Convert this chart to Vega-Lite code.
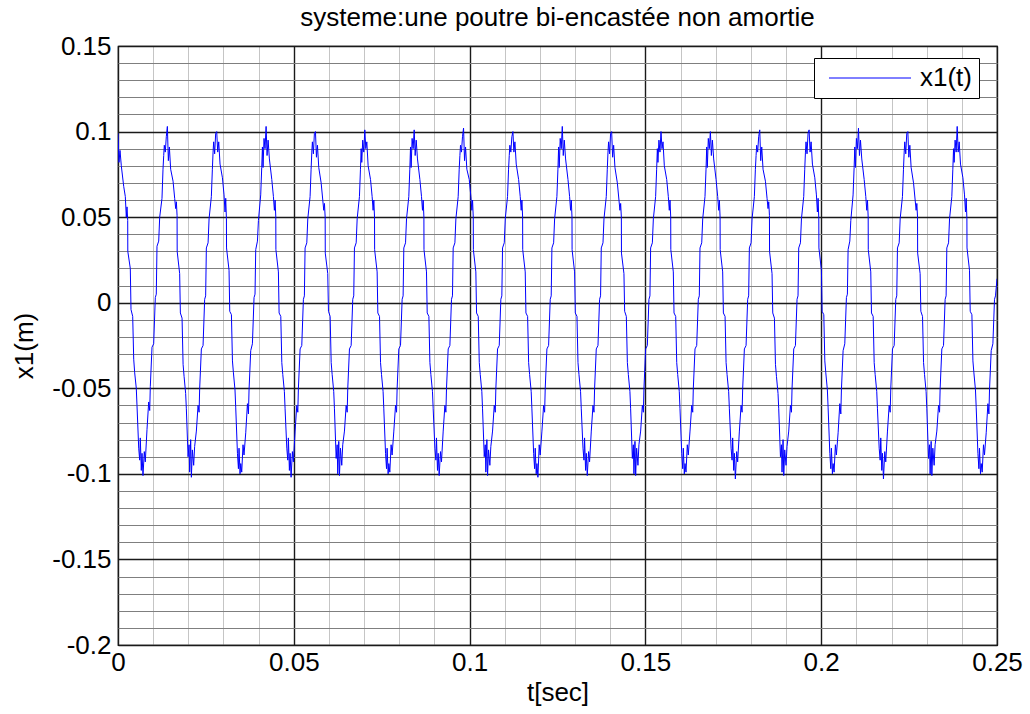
{
  "$schema": "https://vega.github.io/schema/vega-lite/v6.json",
  "autosize": {"type": "none"},
  "padding": {"left": 118, "top": 46, "right": 33, "bottom": 69},
  "width": 879,
  "height": 599,
  "background": "white",
  "title": {"text": "systeme:une poutre bi-encastée non amortie", "font": "Liberation Sans", "fontSize": 26, "fontWeight": "normal", "color": "black", "anchor": "middle", "offset": 4, "dy": 2},
  "config": {
    "view": {"stroke": "black", "strokeWidth": 1.2},
    "axis": {"labelFont": "Liberation Sans", "titleFont": "Liberation Sans", "labelFontSize": 26, "titleFontSize": 26, "titleFontWeight": "normal", "labelColor": "black", "titleColor": "black", "ticks": false, "domain": false}
  },
  "data": {"values": [
{"t":0.00000,"x":0.099},{"t":0.00028,"x":0.082},{"t":0.00057,"x":0.089},{"t":0.00094,"x":0.080},{"t":0.00162,"x":0.068},{"t":0.00208,"x":0.062},{"t":0.00236,"x":0.050},{"t":0.00256,"x":0.056},{"t":0.00276,"x":0.048},{"t":0.00279,"x":0.030},{"t":0.00350,"x":0.020},{"t":0.00370,"x":-0.004},{"t":0.00418,"x":-0.008},{"t":0.00447,"x":-0.033},{"t":0.00475,"x":-0.041},{"t":0.00520,"x":-0.050},{"t":0.00540,"x":-0.060},{"t":0.00589,"x":-0.085},{"t":0.00617,"x":-0.092},{"t":0.00634,"x":-0.079},{"t":0.00663,"x":-0.098},{"t":0.00683,"x":-0.088},{"t":0.00711,"x":-0.101},{"t":0.00748,"x":-0.087},{"t":0.00776,"x":-0.093},{"t":0.00825,"x":-0.074},{"t":0.00873,"x":-0.058},{"t":0.00902,"x":-0.063},{"t":0.00919,"x":-0.049},{"t":0.00967,"x":-0.026},{"t":0.01015,"x":-0.024},{"t":0.01061,"x":0.003},{"t":0.01089,"x":0.005},{"t":0.01109,"x":0.033},{"t":0.01158,"x":0.036},{"t":0.01186,"x":0.050},{"t":0.01251,"x":0.061},{"t":0.01280,"x":0.078},{"t":0.01300,"x":0.086},{"t":0.01317,"x":0.092},{"t":0.01345,"x":0.088},{"t":0.01374,"x":0.097},
{"t":0.01404,"x":0.103},{"t":0.01432,"x":0.083},{"t":0.01461,"x":0.091},{"t":0.01498,"x":0.078},{"t":0.01566,"x":0.071},{"t":0.01612,"x":0.061},{"t":0.01640,"x":0.055},{"t":0.01660,"x":0.059},{"t":0.01680,"x":0.051},{"t":0.01683,"x":0.030},{"t":0.01754,"x":0.017},{"t":0.01774,"x":-0.006},{"t":0.01822,"x":-0.009},{"t":0.01851,"x":-0.036},{"t":0.01879,"x":-0.043},{"t":0.01924,"x":-0.053},{"t":0.01944,"x":-0.062},{"t":0.01993,"x":-0.090},{"t":0.02021,"x":-0.083},{"t":0.02038,"x":-0.099},{"t":0.02067,"x":-0.080},{"t":0.02087,"x":-0.102},{"t":0.02115,"x":-0.086},{"t":0.02152,"x":-0.095},{"t":0.02180,"x":-0.084},{"t":0.02229,"x":-0.075},{"t":0.02277,"x":-0.060},{"t":0.02306,"x":-0.064},{"t":0.02323,"x":-0.050},{"t":0.02371,"x":-0.027},{"t":0.02419,"x":-0.025},{"t":0.02465,"x":0.002},{"t":0.02493,"x":0.004},{"t":0.02513,"x":0.032},{"t":0.02562,"x":0.035},{"t":0.02590,"x":0.049},{"t":0.02655,"x":0.062},{"t":0.02684,"x":0.078},{"t":0.02704,"x":0.088},{"t":0.02721,"x":0.094},{"t":0.02749,"x":0.087},{"t":0.02778,"x":0.099},
{"t":0.02808,"x":0.100},{"t":0.02836,"x":0.088},{"t":0.02865,"x":0.094},{"t":0.02902,"x":0.081},{"t":0.02970,"x":0.073},{"t":0.03016,"x":0.063},{"t":0.03044,"x":0.053},{"t":0.03064,"x":0.061},{"t":0.03084,"x":0.049},{"t":0.03087,"x":0.032},{"t":0.03158,"x":0.019},{"t":0.03178,"x":-0.005},{"t":0.03226,"x":-0.007},{"t":0.03255,"x":-0.034},{"t":0.03283,"x":-0.041},{"t":0.03328,"x":-0.051},{"t":0.03348,"x":-0.061},{"t":0.03397,"x":-0.088},{"t":0.03425,"x":-0.097},{"t":0.03442,"x":-0.085},{"t":0.03471,"x":-0.100},{"t":0.03491,"x":-0.094},{"t":0.03519,"x":-0.099},{"t":0.03556,"x":-0.083},{"t":0.03584,"x":-0.089},{"t":0.03633,"x":-0.076},{"t":0.03681,"x":-0.059},{"t":0.03710,"x":-0.065},{"t":0.03727,"x":-0.051},{"t":0.03775,"x":-0.028},{"t":0.03823,"x":-0.024},{"t":0.03869,"x":0.003},{"t":0.03897,"x":0.005},{"t":0.03917,"x":0.031},{"t":0.03966,"x":0.036},{"t":0.03994,"x":0.048},{"t":0.04059,"x":0.063},{"t":0.04088,"x":0.079},{"t":0.04108,"x":0.091},{"t":0.04125,"x":0.079},{"t":0.04153,"x":0.096},{"t":0.04182,"x":0.090},
{"t":0.04212,"x":0.103},{"t":0.04240,"x":0.086},{"t":0.04269,"x":0.095},{"t":0.04306,"x":0.084},{"t":0.04374,"x":0.072},{"t":0.04420,"x":0.062},{"t":0.04448,"x":0.054},{"t":0.04468,"x":0.060},{"t":0.04488,"x":0.050},{"t":0.04491,"x":0.031},{"t":0.04562,"x":0.018},{"t":0.04582,"x":-0.006},{"t":0.04630,"x":-0.008},{"t":0.04659,"x":-0.035},{"t":0.04687,"x":-0.042},{"t":0.04732,"x":-0.052},{"t":0.04752,"x":-0.062},{"t":0.04801,"x":-0.085},{"t":0.04829,"x":-0.092},{"t":0.04846,"x":-0.079},{"t":0.04875,"x":-0.098},{"t":0.04895,"x":-0.088},{"t":0.04923,"x":-0.102},{"t":0.04960,"x":-0.087},{"t":0.04988,"x":-0.093},{"t":0.05037,"x":-0.075},{"t":0.05085,"x":-0.060},{"t":0.05114,"x":-0.064},{"t":0.05131,"x":-0.050},{"t":0.05179,"x":-0.027},{"t":0.05227,"x":-0.025},{"t":0.05273,"x":0.002},{"t":0.05301,"x":0.004},{"t":0.05321,"x":0.032},{"t":0.05370,"x":0.035},{"t":0.05398,"x":0.049},{"t":0.05463,"x":0.062},{"t":0.05492,"x":0.078},{"t":0.05512,"x":0.088},{"t":0.05529,"x":0.094},{"t":0.05557,"x":0.087},{"t":0.05586,"x":0.099},
{"t":0.05616,"x":0.100},{"t":0.05644,"x":0.085},{"t":0.05673,"x":0.092},{"t":0.05710,"x":0.079},{"t":0.05778,"x":0.070},{"t":0.05824,"x":0.060},{"t":0.05852,"x":0.054},{"t":0.05872,"x":0.058},{"t":0.05892,"x":0.050},{"t":0.05895,"x":0.029},{"t":0.05966,"x":0.017},{"t":0.05986,"x":-0.005},{"t":0.06034,"x":-0.008},{"t":0.06063,"x":-0.035},{"t":0.06091,"x":-0.042},{"t":0.06136,"x":-0.052},{"t":0.06156,"x":-0.062},{"t":0.06205,"x":-0.091},{"t":0.06233,"x":-0.083},{"t":0.06250,"x":-0.100},{"t":0.06279,"x":-0.081},{"t":0.06299,"x":-0.101},{"t":0.06327,"x":-0.085},{"t":0.06364,"x":-0.095},{"t":0.06392,"x":-0.083},{"t":0.06441,"x":-0.075},{"t":0.06489,"x":-0.060},{"t":0.06518,"x":-0.064},{"t":0.06535,"x":-0.050},{"t":0.06583,"x":-0.027},{"t":0.06631,"x":-0.025},{"t":0.06677,"x":0.002},{"t":0.06705,"x":0.004},{"t":0.06725,"x":0.032},{"t":0.06774,"x":0.035},{"t":0.06802,"x":0.049},{"t":0.06867,"x":0.062},{"t":0.06896,"x":0.078},{"t":0.06916,"x":0.090},{"t":0.06933,"x":0.082},{"t":0.06961,"x":0.095},{"t":0.06990,"x":0.088},
{"t":0.07020,"x":0.101},{"t":0.07048,"x":0.090},{"t":0.07077,"x":0.094},{"t":0.07114,"x":0.080},{"t":0.07182,"x":0.072},{"t":0.07228,"x":0.062},{"t":0.07256,"x":0.054},{"t":0.07276,"x":0.060},{"t":0.07296,"x":0.050},{"t":0.07299,"x":0.031},{"t":0.07370,"x":0.018},{"t":0.07390,"x":-0.006},{"t":0.07438,"x":-0.008},{"t":0.07467,"x":-0.035},{"t":0.07495,"x":-0.042},{"t":0.07540,"x":-0.052},{"t":0.07560,"x":-0.062},{"t":0.07609,"x":-0.088},{"t":0.07637,"x":-0.097},{"t":0.07654,"x":-0.085},{"t":0.07683,"x":-0.100},{"t":0.07703,"x":-0.094},{"t":0.07731,"x":-0.099},{"t":0.07768,"x":-0.083},{"t":0.07796,"x":-0.089},{"t":0.07845,"x":-0.075},{"t":0.07893,"x":-0.060},{"t":0.07922,"x":-0.064},{"t":0.07939,"x":-0.050},{"t":0.07987,"x":-0.027},{"t":0.08035,"x":-0.025},{"t":0.08081,"x":0.002},{"t":0.08109,"x":0.004},{"t":0.08129,"x":0.032},{"t":0.08178,"x":0.035},{"t":0.08206,"x":0.049},{"t":0.08271,"x":0.062},{"t":0.08300,"x":0.078},{"t":0.08320,"x":0.091},{"t":0.08337,"x":0.079},{"t":0.08365,"x":0.096},{"t":0.08394,"x":0.090},
{"t":0.08424,"x":0.101},{"t":0.08452,"x":0.086},{"t":0.08481,"x":0.095},{"t":0.08518,"x":0.084},{"t":0.08586,"x":0.072},{"t":0.08632,"x":0.062},{"t":0.08660,"x":0.054},{"t":0.08680,"x":0.060},{"t":0.08700,"x":0.050},{"t":0.08703,"x":0.031},{"t":0.08774,"x":0.018},{"t":0.08794,"x":-0.006},{"t":0.08842,"x":-0.008},{"t":0.08871,"x":-0.035},{"t":0.08899,"x":-0.042},{"t":0.08944,"x":-0.052},{"t":0.08964,"x":-0.062},{"t":0.09013,"x":-0.085},{"t":0.09041,"x":-0.092},{"t":0.09058,"x":-0.079},{"t":0.09087,"x":-0.098},{"t":0.09107,"x":-0.088},{"t":0.09135,"x":-0.101},{"t":0.09172,"x":-0.087},{"t":0.09200,"x":-0.093},{"t":0.09249,"x":-0.075},{"t":0.09297,"x":-0.060},{"t":0.09326,"x":-0.064},{"t":0.09343,"x":-0.050},{"t":0.09391,"x":-0.027},{"t":0.09439,"x":-0.025},{"t":0.09485,"x":0.002},{"t":0.09513,"x":0.004},{"t":0.09533,"x":0.032},{"t":0.09582,"x":0.035},{"t":0.09610,"x":0.049},{"t":0.09675,"x":0.062},{"t":0.09704,"x":0.078},{"t":0.09724,"x":0.086},{"t":0.09741,"x":0.092},{"t":0.09769,"x":0.088},{"t":0.09798,"x":0.097},
{"t":0.09828,"x":0.102},{"t":0.09856,"x":0.083},{"t":0.09885,"x":0.091},{"t":0.09922,"x":0.078},{"t":0.09990,"x":0.072},{"t":0.10036,"x":0.062},{"t":0.10064,"x":0.054},{"t":0.10084,"x":0.060},{"t":0.10104,"x":0.050},{"t":0.10107,"x":0.031},{"t":0.10178,"x":0.018},{"t":0.10198,"x":-0.006},{"t":0.10246,"x":-0.008},{"t":0.10275,"x":-0.035},{"t":0.10303,"x":-0.042},{"t":0.10348,"x":-0.052},{"t":0.10368,"x":-0.062},{"t":0.10417,"x":-0.090},{"t":0.10445,"x":-0.083},{"t":0.10462,"x":-0.099},{"t":0.10491,"x":-0.080},{"t":0.10511,"x":-0.101},{"t":0.10539,"x":-0.086},{"t":0.10576,"x":-0.095},{"t":0.10604,"x":-0.084},{"t":0.10653,"x":-0.075},{"t":0.10701,"x":-0.060},{"t":0.10730,"x":-0.064},{"t":0.10747,"x":-0.050},{"t":0.10795,"x":-0.027},{"t":0.10843,"x":-0.025},{"t":0.10889,"x":0.002},{"t":0.10917,"x":0.004},{"t":0.10937,"x":0.032},{"t":0.10986,"x":0.035},{"t":0.11014,"x":0.049},{"t":0.11079,"x":0.062},{"t":0.11108,"x":0.078},{"t":0.11128,"x":0.086},{"t":0.11145,"x":0.092},{"t":0.11173,"x":0.088},{"t":0.11202,"x":0.097},
{"t":0.11232,"x":0.100},{"t":0.11260,"x":0.088},{"t":0.11289,"x":0.094},{"t":0.11326,"x":0.081},{"t":0.11394,"x":0.072},{"t":0.11440,"x":0.062},{"t":0.11468,"x":0.054},{"t":0.11488,"x":0.060},{"t":0.11508,"x":0.050},{"t":0.11511,"x":0.031},{"t":0.11582,"x":0.018},{"t":0.11602,"x":-0.006},{"t":0.11650,"x":-0.008},{"t":0.11679,"x":-0.035},{"t":0.11707,"x":-0.042},{"t":0.11752,"x":-0.052},{"t":0.11772,"x":-0.062},{"t":0.11821,"x":-0.088},{"t":0.11849,"x":-0.097},{"t":0.11866,"x":-0.085},{"t":0.11895,"x":-0.100},{"t":0.11915,"x":-0.094},{"t":0.11943,"x":-0.102},{"t":0.11980,"x":-0.083},{"t":0.12008,"x":-0.089},{"t":0.12057,"x":-0.075},{"t":0.12105,"x":-0.060},{"t":0.12134,"x":-0.064},{"t":0.12151,"x":-0.050},{"t":0.12199,"x":-0.027},{"t":0.12247,"x":-0.025},{"t":0.12293,"x":0.002},{"t":0.12321,"x":0.004},{"t":0.12341,"x":0.032},{"t":0.12390,"x":0.035},{"t":0.12418,"x":0.049},{"t":0.12483,"x":0.062},{"t":0.12512,"x":0.078},{"t":0.12532,"x":0.091},{"t":0.12549,"x":0.079},{"t":0.12577,"x":0.096},{"t":0.12606,"x":0.090},
{"t":0.12636,"x":0.103},{"t":0.12664,"x":0.086},{"t":0.12693,"x":0.095},{"t":0.12730,"x":0.084},{"t":0.12798,"x":0.072},{"t":0.12844,"x":0.062},{"t":0.12872,"x":0.054},{"t":0.12892,"x":0.060},{"t":0.12912,"x":0.050},{"t":0.12915,"x":0.031},{"t":0.12986,"x":0.018},{"t":0.13006,"x":-0.006},{"t":0.13054,"x":-0.008},{"t":0.13083,"x":-0.035},{"t":0.13111,"x":-0.042},{"t":0.13156,"x":-0.052},{"t":0.13176,"x":-0.062},{"t":0.13225,"x":-0.085},{"t":0.13253,"x":-0.092},{"t":0.13270,"x":-0.079},{"t":0.13299,"x":-0.098},{"t":0.13319,"x":-0.088},{"t":0.13347,"x":-0.101},{"t":0.13384,"x":-0.087},{"t":0.13412,"x":-0.093},{"t":0.13461,"x":-0.075},{"t":0.13509,"x":-0.060},{"t":0.13538,"x":-0.064},{"t":0.13555,"x":-0.050},{"t":0.13603,"x":-0.027},{"t":0.13651,"x":-0.025},{"t":0.13697,"x":0.002},{"t":0.13725,"x":0.004},{"t":0.13745,"x":0.032},{"t":0.13794,"x":0.035},{"t":0.13822,"x":0.049},{"t":0.13887,"x":0.062},{"t":0.13916,"x":0.078},{"t":0.13936,"x":0.088},{"t":0.13953,"x":0.094},{"t":0.13981,"x":0.087},{"t":0.14010,"x":0.099},
{"t":0.14040,"x":0.100},{"t":0.14068,"x":0.085},{"t":0.14097,"x":0.092},{"t":0.14134,"x":0.079},{"t":0.14202,"x":0.070},{"t":0.14248,"x":0.060},{"t":0.14276,"x":0.054},{"t":0.14296,"x":0.058},{"t":0.14316,"x":0.050},{"t":0.14319,"x":0.029},{"t":0.14390,"x":0.017},{"t":0.14410,"x":-0.005},{"t":0.14458,"x":-0.008},{"t":0.14487,"x":-0.035},{"t":0.14515,"x":-0.042},{"t":0.14560,"x":-0.052},{"t":0.14580,"x":-0.062},{"t":0.14629,"x":-0.091},{"t":0.14657,"x":-0.083},{"t":0.14674,"x":-0.100},{"t":0.14703,"x":-0.081},{"t":0.14723,"x":-0.101},{"t":0.14751,"x":-0.085},{"t":0.14788,"x":-0.095},{"t":0.14816,"x":-0.083},{"t":0.14865,"x":-0.075},{"t":0.14913,"x":-0.060},{"t":0.14942,"x":-0.064},{"t":0.14959,"x":-0.050},{"t":0.15007,"x":-0.027},{"t":0.15055,"x":-0.025},{"t":0.15101,"x":0.002},{"t":0.15129,"x":0.004},{"t":0.15149,"x":0.032},{"t":0.15198,"x":0.035},{"t":0.15226,"x":0.049},{"t":0.15291,"x":0.062},{"t":0.15320,"x":0.078},{"t":0.15340,"x":0.090},{"t":0.15357,"x":0.082},{"t":0.15385,"x":0.095},{"t":0.15414,"x":0.088},
{"t":0.15444,"x":0.100},{"t":0.15472,"x":0.090},{"t":0.15501,"x":0.094},{"t":0.15538,"x":0.080},{"t":0.15606,"x":0.072},{"t":0.15652,"x":0.062},{"t":0.15680,"x":0.054},{"t":0.15700,"x":0.060},{"t":0.15720,"x":0.050},{"t":0.15723,"x":0.031},{"t":0.15794,"x":0.018},{"t":0.15814,"x":-0.006},{"t":0.15862,"x":-0.008},{"t":0.15891,"x":-0.035},{"t":0.15919,"x":-0.042},{"t":0.15964,"x":-0.052},{"t":0.15984,"x":-0.062},{"t":0.16033,"x":-0.088},{"t":0.16061,"x":-0.097},{"t":0.16078,"x":-0.085},{"t":0.16107,"x":-0.100},{"t":0.16127,"x":-0.094},{"t":0.16155,"x":-0.099},{"t":0.16192,"x":-0.083},{"t":0.16220,"x":-0.089},{"t":0.16269,"x":-0.075},{"t":0.16317,"x":-0.060},{"t":0.16346,"x":-0.064},{"t":0.16363,"x":-0.050},{"t":0.16411,"x":-0.027},{"t":0.16459,"x":-0.025},{"t":0.16505,"x":0.002},{"t":0.16533,"x":0.004},{"t":0.16553,"x":0.032},{"t":0.16602,"x":0.035},{"t":0.16630,"x":0.049},{"t":0.16695,"x":0.062},{"t":0.16724,"x":0.078},{"t":0.16744,"x":0.091},{"t":0.16761,"x":0.079},{"t":0.16789,"x":0.096},{"t":0.16818,"x":0.090},
{"t":0.16848,"x":0.100},{"t":0.16876,"x":0.086},{"t":0.16905,"x":0.095},{"t":0.16942,"x":0.084},{"t":0.17010,"x":0.072},{"t":0.17056,"x":0.062},{"t":0.17084,"x":0.054},{"t":0.17104,"x":0.060},{"t":0.17124,"x":0.050},{"t":0.17127,"x":0.031},{"t":0.17198,"x":0.018},{"t":0.17218,"x":-0.006},{"t":0.17266,"x":-0.008},{"t":0.17295,"x":-0.035},{"t":0.17323,"x":-0.042},{"t":0.17368,"x":-0.052},{"t":0.17388,"x":-0.062},{"t":0.17437,"x":-0.085},{"t":0.17465,"x":-0.092},{"t":0.17482,"x":-0.079},{"t":0.17511,"x":-0.098},{"t":0.17531,"x":-0.088},{"t":0.17559,"x":-0.103},{"t":0.17596,"x":-0.087},{"t":0.17624,"x":-0.093},{"t":0.17673,"x":-0.075},{"t":0.17721,"x":-0.060},{"t":0.17750,"x":-0.064},{"t":0.17767,"x":-0.050},{"t":0.17815,"x":-0.027},{"t":0.17863,"x":-0.025},{"t":0.17909,"x":0.002},{"t":0.17937,"x":0.004},{"t":0.17957,"x":0.032},{"t":0.18006,"x":0.035},{"t":0.18034,"x":0.049},{"t":0.18099,"x":0.062},{"t":0.18128,"x":0.078},{"t":0.18148,"x":0.086},{"t":0.18165,"x":0.092},{"t":0.18193,"x":0.088},{"t":0.18222,"x":0.097},
{"t":0.18252,"x":0.101},{"t":0.18280,"x":0.083},{"t":0.18309,"x":0.091},{"t":0.18346,"x":0.078},{"t":0.18414,"x":0.071},{"t":0.18460,"x":0.061},{"t":0.18488,"x":0.055},{"t":0.18508,"x":0.059},{"t":0.18528,"x":0.051},{"t":0.18531,"x":0.030},{"t":0.18602,"x":0.017},{"t":0.18622,"x":-0.006},{"t":0.18670,"x":-0.009},{"t":0.18699,"x":-0.036},{"t":0.18727,"x":-0.043},{"t":0.18772,"x":-0.053},{"t":0.18792,"x":-0.062},{"t":0.18841,"x":-0.090},{"t":0.18869,"x":-0.083},{"t":0.18886,"x":-0.099},{"t":0.18915,"x":-0.080},{"t":0.18935,"x":-0.101},{"t":0.18963,"x":-0.086},{"t":0.19000,"x":-0.095},{"t":0.19028,"x":-0.084},{"t":0.19077,"x":-0.075},{"t":0.19125,"x":-0.060},{"t":0.19154,"x":-0.064},{"t":0.19171,"x":-0.050},{"t":0.19219,"x":-0.027},{"t":0.19267,"x":-0.025},{"t":0.19313,"x":0.002},{"t":0.19341,"x":0.004},{"t":0.19361,"x":0.032},{"t":0.19410,"x":0.035},{"t":0.19438,"x":0.049},{"t":0.19503,"x":0.062},{"t":0.19532,"x":0.078},{"t":0.19552,"x":0.088},{"t":0.19569,"x":0.094},{"t":0.19597,"x":0.087},{"t":0.19626,"x":0.099},
{"t":0.19656,"x":0.101},{"t":0.19684,"x":0.088},{"t":0.19713,"x":0.094},{"t":0.19750,"x":0.081},{"t":0.19818,"x":0.073},{"t":0.19864,"x":0.063},{"t":0.19892,"x":0.053},{"t":0.19912,"x":0.061},{"t":0.19932,"x":0.049},{"t":0.19935,"x":0.032},{"t":0.20006,"x":0.019},{"t":0.20026,"x":-0.005},{"t":0.20074,"x":-0.007},{"t":0.20103,"x":-0.034},{"t":0.20131,"x":-0.041},{"t":0.20176,"x":-0.051},{"t":0.20196,"x":-0.061},{"t":0.20245,"x":-0.088},{"t":0.20273,"x":-0.097},{"t":0.20290,"x":-0.085},{"t":0.20319,"x":-0.100},{"t":0.20339,"x":-0.094},{"t":0.20367,"x":-0.099},{"t":0.20404,"x":-0.083},{"t":0.20432,"x":-0.089},{"t":0.20481,"x":-0.076},{"t":0.20529,"x":-0.059},{"t":0.20558,"x":-0.065},{"t":0.20575,"x":-0.051},{"t":0.20623,"x":-0.028},{"t":0.20671,"x":-0.024},{"t":0.20717,"x":0.003},{"t":0.20745,"x":0.005},{"t":0.20765,"x":0.031},{"t":0.20814,"x":0.036},{"t":0.20842,"x":0.048},{"t":0.20907,"x":0.063},{"t":0.20936,"x":0.079},{"t":0.20956,"x":0.091},{"t":0.20973,"x":0.079},{"t":0.21001,"x":0.096},{"t":0.21030,"x":0.090},
{"t":0.21060,"x":0.102},{"t":0.21088,"x":0.086},{"t":0.21117,"x":0.095},{"t":0.21154,"x":0.084},{"t":0.21222,"x":0.072},{"t":0.21268,"x":0.062},{"t":0.21296,"x":0.054},{"t":0.21316,"x":0.060},{"t":0.21336,"x":0.050},{"t":0.21339,"x":0.031},{"t":0.21410,"x":0.018},{"t":0.21430,"x":-0.006},{"t":0.21478,"x":-0.008},{"t":0.21507,"x":-0.035},{"t":0.21535,"x":-0.042},{"t":0.21580,"x":-0.052},{"t":0.21600,"x":-0.062},{"t":0.21649,"x":-0.085},{"t":0.21677,"x":-0.092},{"t":0.21694,"x":-0.079},{"t":0.21723,"x":-0.098},{"t":0.21743,"x":-0.088},{"t":0.21771,"x":-0.103},{"t":0.21808,"x":-0.087},{"t":0.21836,"x":-0.093},{"t":0.21885,"x":-0.075},{"t":0.21933,"x":-0.060},{"t":0.21962,"x":-0.064},{"t":0.21979,"x":-0.050},{"t":0.22027,"x":-0.027},{"t":0.22075,"x":-0.025},{"t":0.22121,"x":0.002},{"t":0.22149,"x":0.004},{"t":0.22169,"x":0.032},{"t":0.22218,"x":0.035},{"t":0.22246,"x":0.049},{"t":0.22311,"x":0.062},{"t":0.22340,"x":0.078},{"t":0.22360,"x":0.088},{"t":0.22377,"x":0.094},{"t":0.22405,"x":0.087},{"t":0.22434,"x":0.099},
{"t":0.22464,"x":0.100},{"t":0.22492,"x":0.085},{"t":0.22521,"x":0.092},{"t":0.22558,"x":0.079},{"t":0.22626,"x":0.070},{"t":0.22672,"x":0.060},{"t":0.22700,"x":0.054},{"t":0.22720,"x":0.058},{"t":0.22740,"x":0.050},{"t":0.22743,"x":0.029},{"t":0.22814,"x":0.017},{"t":0.22834,"x":-0.005},{"t":0.22882,"x":-0.008},{"t":0.22911,"x":-0.035},{"t":0.22939,"x":-0.042},{"t":0.22984,"x":-0.052},{"t":0.23004,"x":-0.062},{"t":0.23053,"x":-0.091},{"t":0.23081,"x":-0.083},{"t":0.23098,"x":-0.100},{"t":0.23127,"x":-0.081},{"t":0.23147,"x":-0.101},{"t":0.23175,"x":-0.085},{"t":0.23212,"x":-0.095},{"t":0.23240,"x":-0.083},{"t":0.23289,"x":-0.075},{"t":0.23337,"x":-0.060},{"t":0.23366,"x":-0.064},{"t":0.23383,"x":-0.050},{"t":0.23431,"x":-0.027},{"t":0.23479,"x":-0.025},{"t":0.23525,"x":0.002},{"t":0.23553,"x":0.004},{"t":0.23573,"x":0.032},{"t":0.23622,"x":0.035},{"t":0.23650,"x":0.049},{"t":0.23715,"x":0.062},{"t":0.23744,"x":0.078},{"t":0.23764,"x":0.090},{"t":0.23781,"x":0.082},{"t":0.23809,"x":0.095},{"t":0.23838,"x":0.088},
{"t":0.23868,"x":0.103},{"t":0.23896,"x":0.088},{"t":0.23925,"x":0.094},{"t":0.23962,"x":0.081},{"t":0.24030,"x":0.073},{"t":0.24076,"x":0.063},{"t":0.24104,"x":0.053},{"t":0.24124,"x":0.061},{"t":0.24144,"x":0.049},{"t":0.24147,"x":0.032},{"t":0.24218,"x":0.019},{"t":0.24238,"x":-0.005},{"t":0.24286,"x":-0.007},{"t":0.24315,"x":-0.034},{"t":0.24343,"x":-0.041},{"t":0.24388,"x":-0.051},{"t":0.24408,"x":-0.061},{"t":0.24457,"x":-0.088},{"t":0.24485,"x":-0.097},{"t":0.24502,"x":-0.085},{"t":0.24531,"x":-0.100},{"t":0.24551,"x":-0.094},{"t":0.24579,"x":-0.099},{"t":0.24616,"x":-0.083},{"t":0.24644,"x":-0.089},{"t":0.24693,"x":-0.076},{"t":0.24741,"x":-0.059},{"t":0.24770,"x":-0.065},{"t":0.24787,"x":-0.051},{"t":0.24835,"x":-0.028},{"t":0.24883,"x":-0.024},{"t":0.24929,"x":0.002},{"t":0.24957,"x":0.004},{"t":0.25000,"x":0.014}
  ]},
  "mark": {"type": "line", "strokeWidth": 1, "interpolate": "linear", "clip": true},
  "encoding": {
    "x": {"field": "t", "type": "quantitative", "title": "t[sec]",
      "scale": {"domain": [0, 0.25], "nice": false, "zero": false},
      "axis": {"values": [0,0.01,0.02,0.03,0.04,0.05,0.06,0.07,0.08,0.09,0.1,0.11,0.12,0.13,0.14,0.15,0.16,0.17,0.18,0.19,0.2,0.21,0.22,0.23,0.24,0.25],
        "labelExpr": "round(datum.value*100) % 5 == 0 ? format(datum.value, '.2~f') : ''",
        "labelPadding": 4, "titlePadding": 4, "labelFlush": false,
        "grid": true,
        "gridColor": {"condition": {"test": "round(datum.value*100) % 5 == 0", "value": "#1a1a1a"}, "value": "#8a8a8a"},
        "gridWidth": {"condition": {"test": "round(datum.value*100) % 5 == 0", "value": 1.4}, "value": 1},
        "gridDash": {"condition": {"test": "round(datum.value*100) % 5 == 0", "value": []}, "value": [1, 1]}}},
    "y": {"field": "x", "type": "quantitative", "title": "x1(m)",
      "scale": {"domain": [-0.2, 0.15], "nice": false, "zero": false},
      "axis": {"values": [-0.2,-0.19,-0.18,-0.17,-0.16,-0.15,-0.14,-0.13,-0.12,-0.11,-0.1,-0.09,-0.08,-0.07,-0.06,-0.05,-0.04,-0.03,-0.02,-0.01,0,0.01,0.02,0.03,0.04,0.05,0.06,0.07,0.08,0.09,0.1,0.11,0.12,0.13,0.14,0.15],
        "labelExpr": "round(datum.value*100) % 5 == 0 ? (datum.value < -0.001 ? '-' : '') + format(abs(datum.value), '.2~f') : ''",
        "labelPadding": 7, "titlePadding": 14, "labelFlush": false,
        "grid": true,
        "gridColor": {"condition": {"test": "round(datum.value*100) % 5 == 0", "value": "#1a1a1a"}, "value": "#7f7f7f"},
        "gridWidth": {"condition": {"test": "round(datum.value*100) % 5 == 0", "value": 1.4}, "value": 1},
        "gridDash": {"condition": {"test": "round(datum.value*100) % 5 == 0", "value": []}, "value": []}}},
    "color": {"datum": "x1(t)", "type": "nominal", "scale": {"range": ["#0000ff"]},
      "legend": {"orient": "none", "legendX": 696, "legendY": 12, "title": null, "symbolType": "M-5,0H5", "symbolSize": 269, "symbolStrokeWidth": 1, "symbolOffset": 36, "labelFont": "Liberation Sans", "labelFontSize": 26, "labelColor": "black", "labelOffset": 37, "padding": 7, "fillColor": "white", "strokeColor": "black", "cornerRadius": 0}}
  }
}
